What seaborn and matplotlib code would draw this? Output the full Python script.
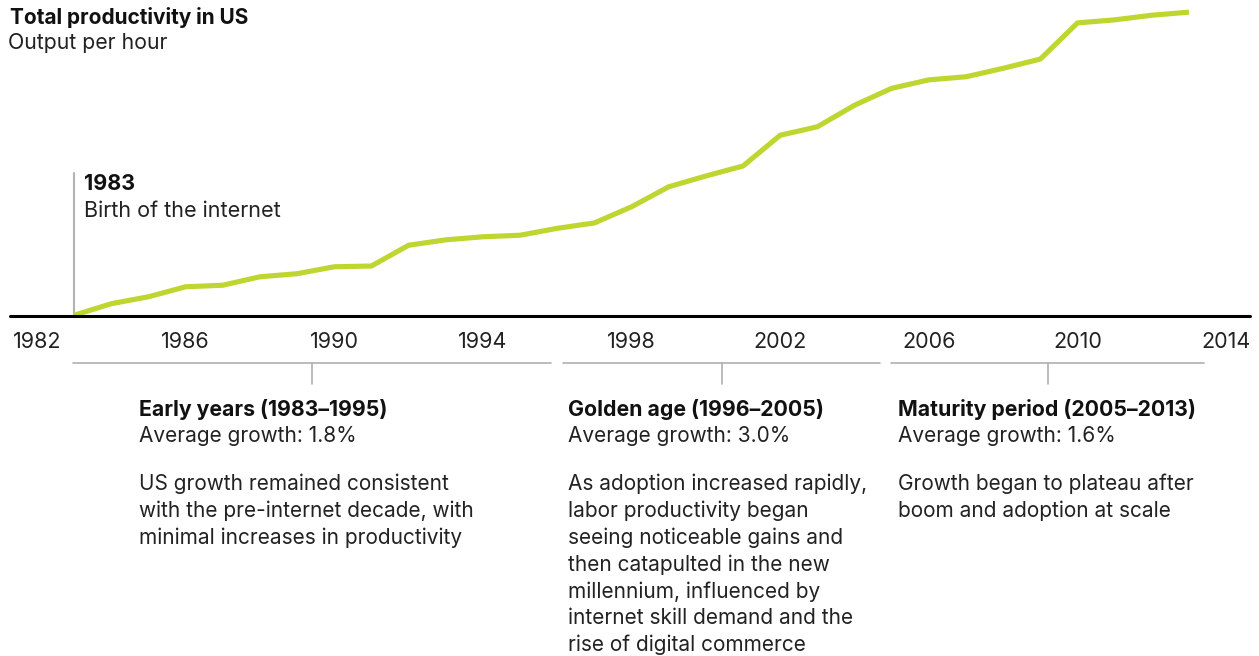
import numpy as np
import pandas as pd
import seaborn as sns
import matplotlib.pyplot as plt
from matplotlib.lines import Line2D

# data: US output per hour (index)
years = list(range(1983, 2014))
output_index = [62.1, 63.6, 64.5, 65.8, 66.0, 67.1, 67.5, 68.4, 68.5, 71.2,
                71.9, 72.3, 72.5, 73.4, 74.1, 76.2, 78.8, 80.2, 81.5, 85.5,
                86.6, 89.4, 91.6, 92.7, 93.1, 94.2, 95.4, 100.1, 100.5, 101.1,
                101.5]
tick_years = [1982, 1986, 1990, 1994, 1998, 2002, 2006, 2010, 2014]

period_titles = ["Early years (1983\u20131995)", "Golden age (1996\u20132005)",
                 "Maturity period (2005\u20132013)"]
period_growth = ["Average growth: 1.8%", "Average growth: 3.0%", "Average growth: 1.6%"]
period_notes = [
    "US growth remained consistent\nwith the pre-internet decade, with\nminimal increases in productivity",
    "As adoption increased rapidly,\nlabor productivity began\nseeing noticeable gains and\nthen catapulted in the new\nmillennium, influenced by\ninternet skill demand and the\nrise of digital commerce",
    "Growth began to plateau after\nboom and adoption at scale",
]

df = pd.DataFrame({"year": years, "output": output_index})

sns.set_theme(style="white")
plt.rcParams['font.family'] = ['Inter', 'DejaVu Sans']

W, H = 1259, 656
fig = plt.figure(figsize=(W / 100, H / 100), dpi=100)
base_px = 316
ax = fig.add_axes([0, (H - base_px) / H, 1, base_px / H])

green = "#bed62f"
px_per_year = 37.16
x0 = 1982 - 37 / px_per_year
ax.set_xlim(x0, x0 + W / px_per_year)
ax.set_ylim(62.0, 62.0 + base_px * 0.13)

sns.lineplot(data=df, x="year", y="output", color=green, linewidth=3.7, ax=ax,
             clip_on=False, solid_joinstyle="round", solid_capstyle="butt", zorder=3)

# baseline and 1983 marker
ax.axhline(62.0, xmin=10 / W, xmax=1250 / W, color="black", lw=2.2, clip_on=False, zorder=4)
ax.axvline(1983, ymin=0, ymax=(base_px - 173) / base_px, color="#b3b3b3", lw=1.5, zorder=2)

for s in ax.spines.values():
    s.set_visible(False)
ax.set_yticks([])
ax.set_xticks(tick_years)
ax.set_xticklabels([str(y) for y in tick_years])
ax.tick_params(axis="x", length=0, pad=11.5, labelsize=15.5, labelcolor="#222222")
ax.set_xlabel("")
ax.set_ylabel("")


def px(x, y):
    return x / W, 1 - y / H


# title
fig.text(*px(10, 18), "Total productivity in US", fontsize=15, fontweight="bold",
         color="#111111", va="center", ha="left")
fig.text(*px(8, 43), "Output per hour", fontsize=15.3, color="#222222", va="center", ha="left")

# 1983 annotation
fig.text(*px(84, 184), "1983", fontsize=15.5, fontweight="bold", color="#111111", va="center")
fig.text(*px(84, 211), "Birth of the internet", fontsize=15.5, color="#222222", va="center")

# period brackets
brackets = [(73, 551), (563, 880), (891, 1204)]
for a, b in brackets:
    fig.add_artist(Line2D([a / W, b / W], [1 - 363 / H] * 2, color="#b0b0b0", lw=1.2))
    m = (a + b) / 2
    fig.add_artist(Line2D([m / W, m / W], [1 - 363 / H, 1 - 384 / H], color="#b0b0b0", lw=1.2))

text_left = [139, 568, 898]
for xl, t, g, n in zip(text_left, period_titles, period_growth, period_notes):
    fig.text(*px(xl, 410), t, fontsize=15.3, fontweight="bold", color="#111111", va="center")
    fig.text(*px(xl, 436), g, fontsize=15, color="#222222", va="center")
    fig.text(*px(xl, 474), n, fontsize=15, color="#222222", va="top", linespacing=1.385)

fig.savefig("out.png", dpi=100)
